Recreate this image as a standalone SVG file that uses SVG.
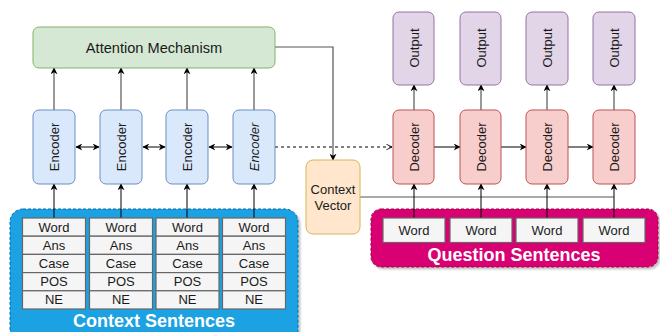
<svg xmlns="http://www.w3.org/2000/svg" width="660" height="332" viewBox="0 0 660 332">
<defs>
<marker id="ah" viewBox="0 0 10 10" refX="9" refY="5" markerWidth="7" markerHeight="7" orient="auto-start-reverse" markerUnits="userSpaceOnUse">
<path d="M0,0 L10,5 L0,10 L3,5 Z" fill="#000"/>
</marker>
<marker id="oa" viewBox="0 0 10 10" refX="9" refY="5" markerWidth="7" markerHeight="7" orient="auto" markerUnits="userSpaceOnUse">
<path d="M1,1 L9,5 L1,9" fill="none" stroke="#000" stroke-width="1.2"/>
</marker>
<filter id="sh" x="-5%" y="-5%" width="110%" height="115%">
<feDropShadow dx="2" dy="2" stdDeviation="1" flood-color="#000" flood-opacity="0.25"/>
</filter>
</defs>
<style>
text{font-family:"Liberation Sans",Arial,sans-serif;fill:#1a1a1a;text-anchor:middle;dominant-baseline:central}
.enc{fill:#dae8fc;stroke:#6c8ebf}
.dec{fill:#f8cecc;stroke:#b85450}
.out{fill:#e1d5e7;stroke:#9673a6}
.cell{fill:#f5f5f5;stroke:#666;stroke-width:1.2}
.ln{stroke:#555;stroke-width:1.2;fill:none}
.lk{stroke:#000;stroke-width:1;fill:none}
.lbl{font-size:13px}
.big{font-size:18px;font-weight:bold;fill:#fff}
</style>
<g id="context-sentences">
<rect x="10" y="209" width="288" height="135" rx="13" fill="#1ba1e2" stroke="#006eaf" stroke-dasharray="3 2" filter="url(#sh)"/>
<text class="big" x="154" y="321">Context Sentences</text>
</g>
<g id="question-sentences">
<rect x="371" y="209" width="287" height="58" rx="10" fill="#d80073" stroke="#a50040" stroke-dasharray="3 2" filter="url(#sh)"/>
<text class="big" x="514" y="255">Question Sentences</text>
</g>
<g id="connectors">
<g class="ln" marker-end="url(#ah)">
<line x1="54" y1="110" x2="54" y2="68"/>
<line x1="121" y1="110" x2="121" y2="68"/>
<line x1="187" y1="110" x2="187" y2="68"/>
<line x1="254" y1="110" x2="254" y2="68"/>
<line x1="414" y1="110" x2="414" y2="85"/>
<line x1="481" y1="110" x2="481" y2="85"/>
<line x1="547" y1="110" x2="547" y2="85"/>
<line x1="614" y1="110" x2="614" y2="85"/>
<polyline points="275,47 333,47 333,160"/>
</g>
<polyline class="ln" points="360,197 614,197"/>
<g class="lk" marker-end="url(#ah)">
<line x1="54" y1="218" x2="54" y2="184"/>
<line x1="121" y1="218" x2="121" y2="184"/>
<line x1="187" y1="218" x2="187" y2="184"/>
<line x1="254" y1="218" x2="254" y2="184"/>
<line x1="414" y1="218" x2="414" y2="184"/>
<line x1="481" y1="218" x2="481" y2="184"/>
<line x1="547" y1="218" x2="547" y2="184"/>
<line x1="614" y1="218" x2="614" y2="184"/>
<line x1="434" y1="147" x2="460" y2="147"/>
<line x1="501" y1="147" x2="526" y2="147"/>
<line x1="568" y1="147" x2="593" y2="147"/>
</g>
<g class="lk" marker-start="url(#ah)" marker-end="url(#ah)">
<line x1="76" y1="147" x2="99" y2="147"/>
<line x1="143" y1="147" x2="165" y2="147"/>
<line x1="209" y1="147" x2="232" y2="147"/>
</g>
<line class="lk" x1="275" y1="147" x2="392" y2="147" stroke-dasharray="3 3" marker-end="url(#oa)"/>
</g>
<g id="attention">
<rect x="33" y="27" width="242" height="41" rx="6" fill="#d5e8d4" stroke="#82b366"/>
<text x="154" y="48" font-size="14.6">Attention Mechanism</text>
</g>
<g id="encoder-1"><rect class="enc" x="33" y="110" width="42" height="74" rx="6"/><text class="lbl" transform="translate(54,147) rotate(-90)">Encoder</text></g>
<g id="encoder-2"><rect class="enc" x="100" y="110" width="42" height="74" rx="6"/><text class="lbl" transform="translate(121,147) rotate(-90)">Encoder</text></g>
<g id="encoder-3"><rect class="enc" x="166" y="110" width="42" height="74" rx="6"/><text class="lbl" transform="translate(187,147) rotate(-90)">Encoder</text></g>
<g id="encoder-4"><rect class="enc" x="233" y="110" width="42" height="74" rx="6"/><text class="lbl" font-style="italic" transform="translate(254,147) rotate(-90)">Encoder</text></g>
<g id="context-vector">
<rect x="306" y="160" width="54" height="74" rx="7" fill="#ffe6cc" stroke="#d6b656"/>
<text class="lbl" x="333" y="189">Context</text>
<text class="lbl" x="333" y="205">Vector</text>
</g>
<g id="decoder-1"><rect class="dec" x="393" y="110" width="41" height="74" rx="6"/><text class="lbl" transform="translate(414,147) rotate(-90)">Decoder</text></g>
<g id="decoder-2"><rect class="dec" x="460" y="110" width="41" height="74" rx="6"/><text class="lbl" transform="translate(481,147) rotate(-90)">Decoder</text></g>
<g id="decoder-3"><rect class="dec" x="526" y="110" width="42" height="74" rx="6"/><text class="lbl" transform="translate(547,147) rotate(-90)">Decoder</text></g>
<g id="decoder-4"><rect class="dec" x="593" y="110" width="42" height="74" rx="6"/><text class="lbl" transform="translate(614,147) rotate(-90)">Decoder</text></g>
<g id="output-1"><rect class="out" x="393" y="12" width="41" height="73" rx="6"/><text class="lbl" transform="translate(414,48) rotate(-90)">Output</text></g>
<g id="output-2"><rect class="out" x="460" y="12" width="41" height="73" rx="6"/><text class="lbl" transform="translate(481,48) rotate(-90)">Output</text></g>
<g id="output-3"><rect class="out" x="526" y="12" width="42" height="73" rx="6"/><text class="lbl" transform="translate(547,48) rotate(-90)">Output</text></g>
<g id="output-4"><rect class="out" x="593" y="12" width="42" height="73" rx="6"/><text class="lbl" transform="translate(614,48) rotate(-90)">Output</text></g>
<g id="ctx-table-1">
<rect class="cell" x="22.5" y="218" width="63" height="18.2"/><text class="lbl" x="54" y="227.1">Word</text>
<rect class="cell" x="22.5" y="236.2" width="63" height="18.2"/><text class="lbl" x="54" y="245.3">Ans</text>
<rect class="cell" x="22.5" y="254.4" width="63" height="18.2"/><text class="lbl" x="54" y="263.5">Case</text>
<rect class="cell" x="22.5" y="272.6" width="63" height="18.2"/><text class="lbl" x="54" y="281.7">POS</text>
<rect class="cell" x="22.5" y="290.8" width="63" height="18.2"/><text class="lbl" x="54" y="299.9">NE</text>
</g>
<g id="ctx-table-2">
<rect class="cell" x="89.5" y="218" width="63" height="18.2"/><text class="lbl" x="121" y="227.1">Word</text>
<rect class="cell" x="89.5" y="236.2" width="63" height="18.2"/><text class="lbl" x="121" y="245.3">Ans</text>
<rect class="cell" x="89.5" y="254.4" width="63" height="18.2"/><text class="lbl" x="121" y="263.5">Case</text>
<rect class="cell" x="89.5" y="272.6" width="63" height="18.2"/><text class="lbl" x="121" y="281.7">POS</text>
<rect class="cell" x="89.5" y="290.8" width="63" height="18.2"/><text class="lbl" x="121" y="299.9">NE</text>
</g>
<g id="ctx-table-3">
<rect class="cell" x="156" y="218" width="63" height="18.2"/><text class="lbl" x="187.5" y="227.1">Word</text>
<rect class="cell" x="156" y="236.2" width="63" height="18.2"/><text class="lbl" x="187.5" y="245.3">Ans</text>
<rect class="cell" x="156" y="254.4" width="63" height="18.2"/><text class="lbl" x="187.5" y="263.5">Case</text>
<rect class="cell" x="156" y="272.6" width="63" height="18.2"/><text class="lbl" x="187.5" y="281.7">POS</text>
<rect class="cell" x="156" y="290.8" width="63" height="18.2"/><text class="lbl" x="187.5" y="299.9">NE</text>
</g>
<g id="ctx-table-4">
<rect class="cell" x="222.5" y="218" width="63" height="18.2"/><text class="lbl" x="254" y="227.1">Word</text>
<rect class="cell" x="222.5" y="236.2" width="63" height="18.2"/><text class="lbl" x="254" y="245.3">Ans</text>
<rect class="cell" x="222.5" y="254.4" width="63" height="18.2"/><text class="lbl" x="254" y="263.5">Case</text>
<rect class="cell" x="222.5" y="272.6" width="63" height="18.2"/><text class="lbl" x="254" y="281.7">POS</text>
<rect class="cell" x="222.5" y="290.8" width="63" height="18.2"/><text class="lbl" x="254" y="299.9">NE</text>
</g>
<g id="q-word-1"><rect class="cell" x="383" y="218" width="62" height="24.5"/><text class="lbl" x="414" y="230.5">Word</text></g>
<g id="q-word-2"><rect class="cell" x="450" y="218" width="62" height="24.5"/><text class="lbl" x="481" y="230.5">Word</text></g>
<g id="q-word-3"><rect class="cell" x="516" y="218" width="62" height="24.5"/><text class="lbl" x="547" y="230.5">Word</text></g>
<g id="q-word-4"><rect class="cell" x="583" y="218" width="62" height="24.5"/><text class="lbl" x="614" y="230.5">Word</text></g>
</svg>
